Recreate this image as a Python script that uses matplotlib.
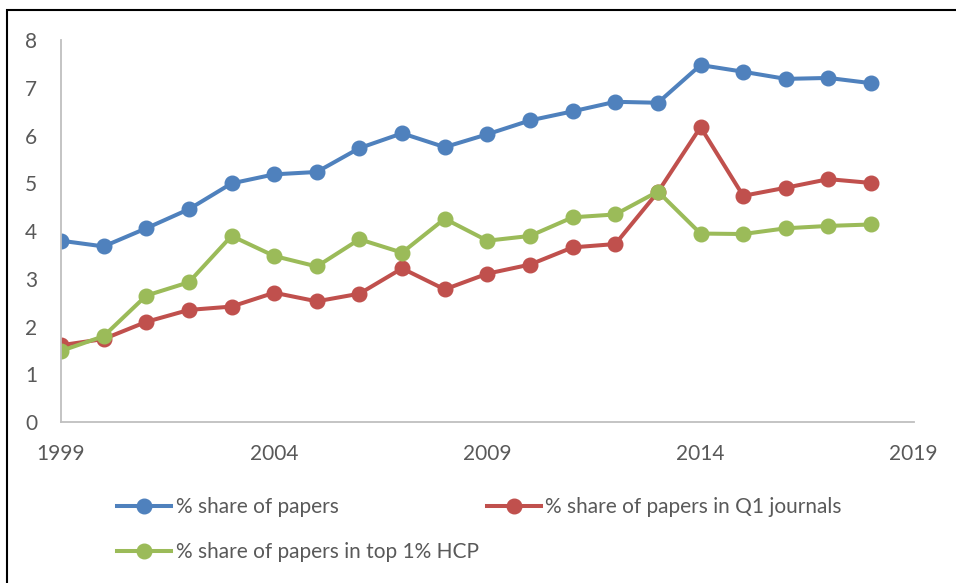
import matplotlib.pyplot as plt
from matplotlib.patches import Rectangle

years = list(range(1999, 2019))
share_papers = [3.80, 3.68, 4.06, 4.46, 5.00, 5.19, 5.24, 5.74, 6.05, 5.76,
                6.03, 6.32, 6.51, 6.71, 6.69, 7.48, 7.34, 7.19, 7.21, 7.10]
share_q1 = [1.61, 1.74, 2.10, 2.35, 2.42, 2.71, 2.53, 2.69, 3.22, 2.78,
            3.11, 3.30, 3.66, 3.73, 4.82, 6.18, 4.74, 4.91, 5.09, 5.01]
share_hcp = [1.49, 1.80, 2.65, 2.93, 3.90, 3.48, 3.26, 3.83, 3.55, 4.26,
             3.80, 3.90, 4.29, 4.35, 4.83, 3.95, 3.94, 4.06, 4.11, 4.14]
labels = ['% share of papers', '% share of papers in Q1 journals',
          '% share of papers in top 1% HCP']
colors = ['#4F81BD', '#C0504D', '#9BBB59']

plt.rcParams['font.family'] = ['Lato', 'DejaVu Sans']

fig = plt.figure(figsize=(9.56, 5.83), dpi=100)
ax = fig.add_axes([0.0638, 0.276, 0.892, 0.655])

lines = []
for vals, lab, c in zip([share_papers, share_q1, share_hcp], labels, colors):
    ln, = ax.plot(years, vals, color=c, lw=2.9, marker='o', markersize=10.5, label=lab)
    lines.append(ln)

ax.set_xlim(1999, 2019)
ax.set_ylim(0, 8)
ax.set_xticks([1999, 2004, 2009, 2014, 2019])
ax.set_yticks(range(0, 9))
ax.tick_params(length=0, labelsize=15, labelcolor='#595959')
ax.tick_params(axis='y', pad=17)
ax.tick_params(axis='x', pad=16)
for s in ['top', 'right']:
    ax.spines[s].set_visible(False)
for s in ['left', 'bottom']:
    ax.spines[s].set_color('#BFBFBF')
    ax.spines[s].set_linewidth(1.3)

# legend fills column by column, so order items to read row by row
order = [0, 2, 1]
fig.legend([lines[i] for i in order], [labels[i] for i in order],
           loc='upper left', bbox_to_anchor=(0.114, 0.162), ncol=2, frameon=False,
           fontsize=15, labelcolor='#595959', handlelength=2.6, handletextpad=0.2,
           columnspacing=0.4, labelspacing=1.2, borderaxespad=0)

# outer frame (only left and top edges visible)
fig.patches.append(Rectangle((0.0073, -0.1), 1.2, 1.083, transform=fig.transFigure,
                             fill=False, edgecolor='black', lw=1.5))

fig.savefig('out.png', dpi=100)
